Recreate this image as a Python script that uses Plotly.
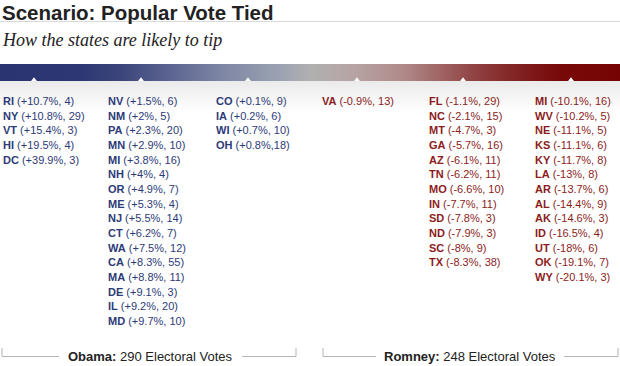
import plotly.graph_objects as go

# ---------------- data ----------------
title_text = "Scenario: Popular Vote Tied"
subtitle_text = "How the states are likely to tip"

obama_col1_states = ["RI", "NY", "VT", "HI", "DC"]
obama_col1_margin = [10.7, 10.8, 15.4, 19.5, 39.9]
obama_col1_ev = [4, 29, 3, 4, 3]

obama_col2_states = ["NV", "NM", "PA", "MN", "MI", "NH", "OR", "ME", "NJ", "CT", "WA", "CA", "MA", "DE", "IL", "MD"]
obama_col2_margin = [1.5, 2, 2.3, 2.9, 3.8, 4, 4.9, 5.3, 5.5, 6.2, 7.5, 8.3, 8.8, 9.1, 9.2, 9.7]
obama_col2_ev = [6, 5, 20, 10, 16, 4, 7, 4, 14, 7, 12, 55, 11, 3, 20, 10]

obama_col3_states = ["CO", "IA", "WI", "OH"]
obama_col3_margin = [0.1, 0.2, 0.7, 0.8]
obama_col3_ev = [9, 6, 10, 18]

romney_col1_states = ["VA"]
romney_col1_margin = [-0.9]
romney_col1_ev = [13]

romney_col2_states = ["FL", "NC", "MT", "GA", "AZ", "TN", "MO", "IN", "SD", "ND", "SC", "TX"]
romney_col2_margin = [-1.1, -2.1, -4.7, -5.7, -6.1, -6.2, -6.6, -7.7, -7.8, -7.9, -8, -8.3]
romney_col2_ev = [29, 15, 3, 16, 11, 11, 10, 11, 3, 3, 9, 38]

romney_col3_states = ["MI", "WV", "NE", "KS", "KY", "LA", "AR", "AL", "AK", "ID", "UT", "OK", "WY"]
romney_col3_margin = [-10.1, -10.2, -11.1, -11.1, -11.7, -13, -13.7, -14.4, -14.6, -16.5, -18, -19.1, -20.1]
romney_col3_ev = [16, 5, 5, 6, 8, 8, 6, 9, 3, 4, 6, 7, 3]

obama_total_label = "290 Electoral Votes"
romney_total_label = "248 Electoral Votes"

# gradient colour stops for the scale bar
gradient_stops = [0.0, 0.13, 0.2, 0.27, 0.35, 0.45, 0.5, 0.57, 0.65, 0.72, 0.78, 0.85, 0.9, 1.0]
gradient_colors = ["#2a3470", "#2d3873", "#3d477c", "#5a6390", "#7b83a2", "#9aa2b2",
                   "#b0b0b0", "#b7a4a4", "#b08a8a", "#9e5e5e", "#8c3a3a", "#7e1c1c",
                   "#780a0a", "#760303"]

# ---------------- style / layout ----------------
W, H = 620, 366
BLUE = "#2d3a78"
RED = "#8c1c1c"
FONT = "Arial, 'Liberation Sans', Helvetica, sans-serif"
row0_y = 101
row_dy = 14.67
col_x = [1, 106, 214, 320, 427, 533]
marker_x = [34, 141, 248, 357, 463, 571]
bar_top, bar_bot = 64, 81

fig = go.Figure()

# shadow under the bar
fig.add_trace(go.Scatter(
    x=[0, W, W, 0, 0], y=[bar_bot, bar_bot, 112, 112, bar_bot],
    fill="toself", mode="none", hoverinfo="skip", showlegend=False,
    fillgradient=dict(type="vertical", start=bar_bot, stop=112,
                      colorscale=[[0, "rgba(234,234,234,1)"], [1, "rgba(255,255,255,1)"]]),
))

# gradient bar
fig.add_trace(go.Scatter(
    x=[0, W, W, 0, 0], y=[bar_top, bar_top, bar_bot, bar_bot, bar_top],
    fill="toself", mode="none", hoverinfo="skip", showlegend=False,
    fillgradient=dict(type="horizontal", start=0, stop=W,
                      colorscale=[[s, c] for s, c in zip(gradient_stops, gradient_colors)]),
))

# tick markers on the bar
fig.add_trace(go.Scatter(
    x=marker_x, y=[bar_bot - 1.2] * len(marker_x), mode="markers",
    marker=dict(symbol="triangle-up", size=5, color="white", line=dict(width=0)),
    hoverinfo="skip", showlegend=False,
))


def fmt(state, margin, ev):
    sep = "," if state == "OH" else ", "
    return f"<b>{state}</b> ({margin:+g}%{sep}{ev})"


columns = [
    (obama_col1_states, obama_col1_margin, obama_col1_ev, BLUE),
    (obama_col2_states, obama_col2_margin, obama_col2_ev, BLUE),
    (obama_col3_states, obama_col3_margin, obama_col3_ev, BLUE),
    (romney_col1_states, romney_col1_margin, romney_col1_ev, RED),
    (romney_col2_states, romney_col2_margin, romney_col2_ev, RED),
    (romney_col3_states, romney_col3_margin, romney_col3_ev, RED),
]

annotations = []
for ci, (sts, mg, ev, color) in enumerate(columns):
    for ri, (s, m, e) in enumerate(zip(sts, mg, ev)):
        annotations.append(dict(
            x=col_x[ci], y=row0_y + ri * row_dy, text=fmt(s, m, e),
            xanchor="left", yanchor="middle", showarrow=False,
            font=dict(family=FONT, size=11, color=color),
            xref="x", yref="y",
        ))

# title & subtitle
annotations.append(dict(x=0, y=12, text=f"<b>{title_text}</b>", xanchor="left", yanchor="middle",
                        showarrow=False, xref="x", yref="y",
                        font=dict(family=FONT, size=20.5, color="#222222")))
annotations.append(dict(x=0, y=40, text=f"<i>{subtitle_text}</i>", xanchor="left", yanchor="middle",
                        showarrow=False, xref="x", yref="y",
                        font=dict(family="Georgia, 'Liberation Serif', serif",
                                  size=18, color="#222222")))

# totals
annotations.append(dict(x=150.5, y=356.5, text=f"<b>Obama:</b> {obama_total_label}",
                        xanchor="center", yanchor="middle", showarrow=False, xref="x", yref="y",
                        font=dict(family=FONT, size=13, color="#222222")))
annotations.append(dict(x=470, y=356.5, text=f"<b>Romney:</b> {romney_total_label}",
                        xanchor="center", yanchor="middle", showarrow=False, xref="x", yref="y",
                        font=dict(family=FONT, size=13, color="#222222")))

shapes = []
# title rule
shapes.append(dict(type="line", x0=0, x1=W, y0=21.5, y1=21.5, xref="x", yref="y",
                   line=dict(color="#d8d8d8", width=1)))
# brackets
GRAY = "#b5b5b5"
for (l, l2, r2, r) in [(2, 59, 242, 296), (323, 376, 564, 618)]:
    by = 356.5
    shapes.append(dict(type="path", path=f"M {l},{348} L {l},{by} L {l2},{by}",
                       xref="x", yref="y", line=dict(color=GRAY, width=1)))
    shapes.append(dict(type="path", path=f"M {r2},{by} L {r},{by} L {r},{348}",
                       xref="x", yref="y", line=dict(color=GRAY, width=1)))

fig.update_layout(
    width=W, height=H, margin=dict(l=0, r=0, t=0, b=0),
    paper_bgcolor="white", plot_bgcolor="white",
    xaxis=dict(range=[0, W], visible=False, fixedrange=True),
    yaxis=dict(range=[H, 0], visible=False, fixedrange=True),
    annotations=annotations, shapes=shapes, showlegend=False,
)

fig.write_html("out.html", config={"displayModeBar": False},
               post_script="document.body.style.margin='0';document.body.style.overflow='hidden';")
